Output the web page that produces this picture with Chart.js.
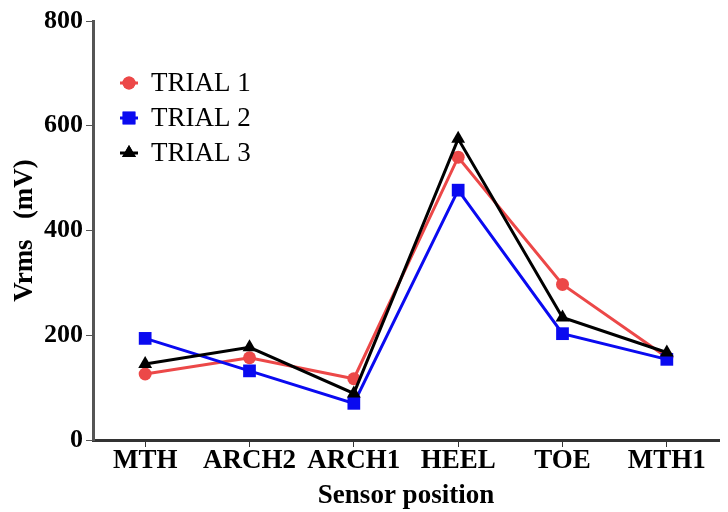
<!DOCTYPE html>
<html>
<head>
<meta charset="utf-8">
<script src="https://cdn.jsdelivr.net/npm/chart.js@4/dist/chart.umd.min.js"></script>
<style>
  html, body { margin: 0; padding: 0; background: #fff; }
  #wrap { width: 728px; height: 512px; }
</style>
</head>
<body>
<div id="wrap"><canvas id="sensorChart"></canvas></div>
<script>
// sensor positions along the foot
var positions = ["MTH", "ARCH2", "ARCH1", "HEEL", "TOE", "MTH1"];
// Vrms in mV
var trial1 = [126, 157, 117, 540, 297, 158];
var trial2 = [194, 132, 70, 477, 203, 154];
var trial3 = [145, 177, 89, 575, 234, 167];
var yTicks = [0, 200, 400, 600, 800];

var serif = "'Liberation Serif', 'Times New Roman', serif";

// legend drawn inside the plot, top-left, with a short line through each marker
var insideLegend = {
    id: 'insideLegend',
    afterDraw: function(chart) {
        var ctx = chart.ctx;
        var area = chart.chartArea;
        var x = area.left + 36;
        var y = area.top + 62;
        chart.data.datasets.forEach(function(ds, i) {
            var cy = y + i * 35;
            ctx.save();
            ctx.strokeStyle = ds.borderColor;
            ctx.lineWidth = 3;
            ctx.beginPath();
            ctx.moveTo(x - 9, cy);
            ctx.lineTo(x + 9, cy);
            ctx.stroke();
            ctx.fillStyle = ds.backgroundColor;
            Chart.helpers.drawPoint(ctx, {
                pointStyle: ds.pointStyle,
                radius: ds.pointRadius,
                borderWidth: 0
            }, x, cy);
            ctx.fill();
            ctx.fillStyle = '#000';
            ctx.font = '27px ' + serif;
            ctx.textBaseline = 'middle';
            ctx.textAlign = 'left';
            ctx.fillText(ds.label, x + 22, cy + 1);
            ctx.restore();
        });
    }
};

new Chart(document.getElementById('sensorChart'), {
    type: 'line',
    data: {
        labels: positions,
        datasets: [{
            label: 'TRIAL 1',
            data: trial1,
            borderColor: '#EC4848',
            backgroundColor: '#EC4848',
            pointStyle: 'circle',
            pointRadius: 6.5,
            order: 2
        }, {
            label: 'TRIAL 2',
            data: trial2,
            borderColor: '#0A0AF0',
            backgroundColor: '#0A0AF0',
            pointStyle: 'rect',
            pointRadius: 9,
            order: 1
        }, {
            label: 'TRIAL 3',
            data: trial3,
            borderColor: '#000000',
            backgroundColor: '#000000',
            pointStyle: 'triangle',
            pointRadius: 8,
            order: 0
        }]
    },
    options: {
        responsive: true,
        maintainAspectRatio: false,
        animation: false,
        layout: { padding: { top: 21, right: 3, left: 12, bottom: 2 } },
        elements: {
            line: { borderWidth: 3, tension: 0 },
            point: { borderWidth: 0, hoverRadius: 7 }
        },
        plugins: {
            legend: { display: false },
            tooltip: { enabled: false }
        },
        scales: {
            x: {
                offset: true,
                grid: { drawOnChartArea: false, drawTicks: true, tickLength: 7, color: '#333', offset: false },
                border: { color: '#333', width: 3 },
                ticks: {
                    color: '#000',
                    padding: 1,
                    font: { family: serif, size: 27, weight: 'bold', lineHeight: 1 }
                },
                title: {
                    display: true,
                    text: 'Sensor position',
                    color: '#000',
                    padding: { top: 7, bottom: 0 },
                    font: { family: serif, size: 27, weight: 'bold', lineHeight: 1 }
                }
            },
            y: {
                min: 0,
                max: 800,
                afterBuildTicks: function(axis) {
                    axis.ticks = yTicks.map(function(v) { return { value: v }; });
                },
                grid: { drawOnChartArea: false, drawTicks: true, tickLength: 7, color: '#555' },
                border: { color: '#555', width: 3 },
                ticks: {
                    color: '#000',
                    padding: 3,
                    font: { family: serif, size: 26, weight: 'bold', lineHeight: 1 }
                },
                title: {
                    display: true,
                    text: 'Vrms   (mV)',
                    color: '#000',
                    padding: { top: 0, bottom: 2 },
                    font: { family: serif, size: 27, weight: 'bold', lineHeight: 1 }
                }
            }
        }
    },
    plugins: [insideLegend]
});
</script>
</body>
</html>
